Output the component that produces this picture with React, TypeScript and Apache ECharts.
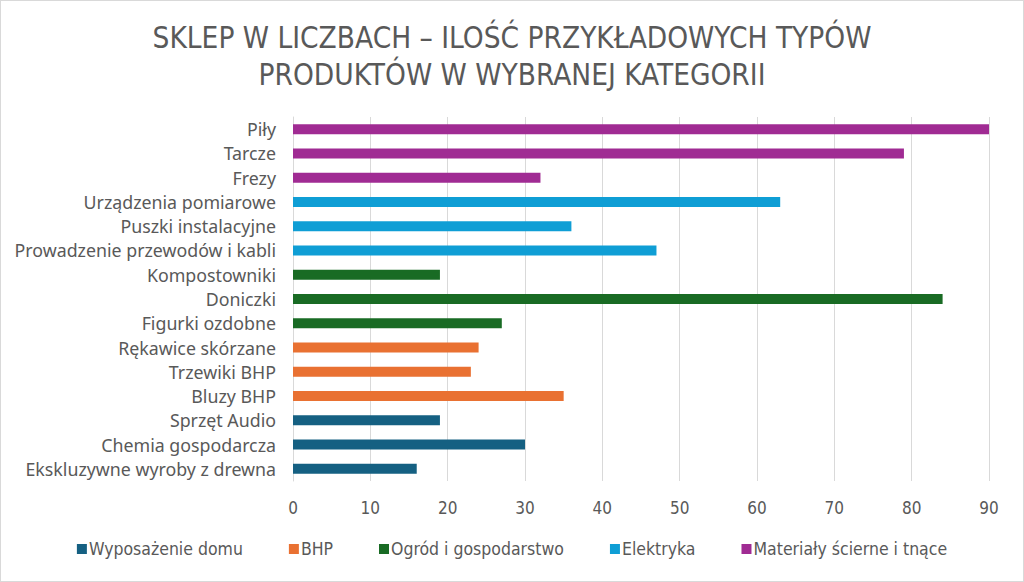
import React, { useEffect, useRef } from "react";
import * as echarts from "echarts";

const categories = [
  "Ekskluzywne wyroby z drewna",
  "Chemia gospodarcza",
  "Sprzęt Audio",
  "Bluzy BHP",
  "Trzewiki BHP",
  "Rękawice skórzane",
  "Figurki ozdobne",
  "Doniczki",
  "Kompostowniki",
  "Prowadzenie przewodów i kabli",
  "Puszki instalacyjne",
  "Urządzenia pomiarowe",
  "Frezy",
  "Tarcze",
  "Piły",
];

const seriesNames = [
  "Wyposażenie domu",
  "BHP",
  "Ogród i gospodarstwo",
  "Elektryka",
  "Materiały ścierne i tnące",
];

const wyposazenie = [16, 30, 19, null, null, null, null, null, null, null, null, null, null, null, null];
const bhp = [null, null, null, 35, 23, 24, null, null, null, null, null, null, null, null, null];
const ogrod = [null, null, null, null, null, null, 27, 84, 19, null, null, null, null, null, null];
const elektryka = [null, null, null, null, null, null, null, null, null, 47, 36, 63, null, null, null];
const materialy = [null, null, null, null, null, null, null, null, null, null, null, null, 32, 79, 90];

const seriesData = [wyposazenie, bhp, ogrod, elektryka, materialy];
const colors = ["#156082", "#E97132", "#196B24", "#0F9ED5", "#A02B93"];

const titleText = "SKLEP W LICZBACH – ILOŚĆ PRZYKŁADOWYCH TYPÓW\nPRODUKTÓW W WYBRANEJ KATEGORII";

const narrow = "'Liberation Sans Narrow', 'DejaVu Sans Condensed', Roboto, sans-serif";

export default function App() {
  const ref = useRef<HTMLDivElement>(null);
  useEffect(() => {
    if (!ref.current) return;
    const chart = echarts.init(ref.current, undefined, { renderer: "svg" });
    chart.setOption({
      animation: false,
      backgroundColor: "#ffffff",
      title: {
        text: titleText,
        left: "center",
        top: 13,
        textStyle: {
          fontFamily: narrow,
          fontSize: 29.5,
          fontWeight: "normal",
          color: "#595959",
          lineHeight: 37,
        },
      },
      legend: {
        bottom: 18,
        left: "center",
        itemWidth: 10,
        itemHeight: 10,
        itemGap: 46,
        icon: "rect",
        data: seriesNames,
        textStyle: {
          fontFamily: narrow,
          fontSize: 17.5,
          color: "#595959",
          padding: [0, 0, 0, -3],
        },
      },
      grid: {
        left: 292,
        right: 34,
        top: 116,
        bottom: 100,
        containLabel: false,
      },
      xAxis: {
        type: "value",
        min: 0,
        max: 90,
        interval: 10,
        axisLine: { show: false },
        axisTick: { show: false },
        splitLine: { lineStyle: { color: "#D9D9D9", width: 1 } },
        axisLabel: {
          fontFamily: narrow,
          fontSize: 17,
          color: "#595959",
          margin: 18,
        },
      },
      yAxis: {
        type: "category",
        data: categories,
        axisLine: { show: true, lineStyle: { color: "#D9D9D9" } },
        axisTick: { show: false },
        axisLabel: {
          fontFamily: "'Noto Sans', sans-serif",
          fontSize: 17.8,
          color: "#595959",
          margin: 17,
        },
      },
      series: seriesNames.map((name, i) => ({
        name,
        type: "bar",
        stack: "total",
        barWidth: 10,
        data: seriesData[i],
        itemStyle: { color: colors[i] },
      })),
    });
    return () => chart.dispose();
  }, []);
  return (
    <div
      ref={ref}
      style={{
        position: "fixed",
        left: 0,
        top: 0,
        width: 1024,
        height: 582,
        boxSizing: "border-box",
        border: "1px solid #D9D9D9",
      }}
    />
  );
}
